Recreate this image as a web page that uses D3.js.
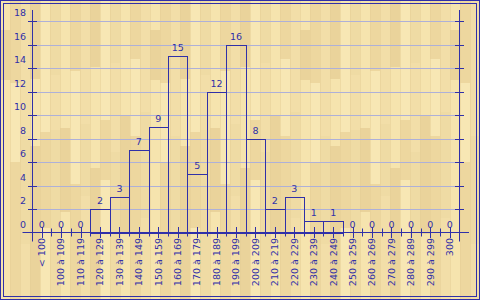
<!DOCTYPE html>
<html>
<head>
<meta charset="utf-8">
<script src="https://cdn.jsdelivr.net/npm/d3@7"></script>
<style>
  body { margin: 0; background: #fff; }
  svg text { font-family: "DejaVu Sans", Verdana, sans-serif; font-size: 9.5px; fill: #3030a8; }
</style>
</head>
<body>
<svg id="chart" width="480" height="300"></svg>
<script>
// Histogram categories and counts
const categories = ["< 100", "100 à 109", "110 à 119", "120 à 129", "130 à 139", "140 à 149",
  "150 à 159", "160 à 169", "170 à 179", "180 à 189", "190 à 199", "200 à 209",
  "210 à 219", "220 à 229", "230 à 239", "240 à 249", "250 à 259", "260 à 269",
  "270 à 279", "280 à 289", "290 à 299", "300"];
const counts = [0, 0, 0, 2, 3, 7, 9, 15, 5, 12, 16, 8, 2, 3, 1, 1, 0, 0, 0, 0, 0, 0];
const yTicks = [0, 2, 4, 6, 8, 10, 12, 14, 16, 18];

const W = 480, H = 300;
const BLUE = "#3030a8";
const GRID = "#aeb0d8";

const svg = d3.select("#chart");

// Wood-plank background (decorative texture)
const defs = svg.append("defs");
const pat = defs.append("pattern")
  .attr("id", "wood")
  .attr("patternUnits", "userSpaceOnUse")
  .attr("width", 150)
  .attr("height", 300);
pat.append("rect").attr("width", 150).attr("height", 300).attr("fill", "#efdaa3");
const shades = ["#f6e4ae", "#edd79f", "#f2dea8", "#ead39b", "#f7e7b4", "#efdba4"];
for (let i = 0; i < 15; i++) {
  const px = i * 10;
  const off = (i * 53) % 110;
  pat.append("rect")
    .attr("x", px).attr("y", 0).attr("width", 10).attr("height", 300)
    .attr("fill", shades[(i * 7) % shades.length]);
  pat.append("rect")
    .attr("x", px).attr("y", off + 30).attr("width", 10).attr("height", 50 + (i * 29) % 70)
    .attr("fill", shades[(i * 7 + 3) % shades.length]);
  pat.append("line")
    .attr("x1", px + 0.5).attr("x2", px + 0.5).attr("y1", 0).attr("y2", 300)
    .attr("stroke", "#e4cd95").attr("stroke-width", 0.5);
}
svg.append("rect").attr("width", W).attr("height", H).attr("fill", "url(#wood)");

// Double frame
svg.append("rect").attr("x", 0.5).attr("y", 0.5).attr("width", W - 1).attr("height", H - 1)
  .attr("fill", "none").attr("stroke", BLUE);
svg.append("rect").attr("x", 3.5).attr("y", 3.5).attr("width", W - 7).attr("height", H - 7)
  .attr("fill", "none").attr("stroke", BLUE);

// Scales
const x = d3.scaleBand().domain(categories).range([32, 459.5]).padding(0);
const y = d3.scaleLinear().domain([0, 18]).range([232.5, 21]);
const x0 = 32.5, x1 = 459.5, yTop = 10, yBot = 241.5;
const px = (v) => Math.round(v) + 0.5;

// Grid
svg.append("g").selectAll("line")
  .data(yTicks.filter((d) => d > 0))
  .join("line")
  .attr("x1", x0).attr("x2", x1)
  .attr("y1", (d) => px(y(d))).attr("y2", (d) => px(y(d)))
  .attr("stroke", GRID);

// Bars as outlined rectangles
const bars = categories.map((c, i) => ({ c, v: counts[i] }));
svg.append("g").selectAll("rect")
  .data(bars.filter((d) => d.v > 0))
  .join("rect")
  .attr("x", (d) => px(x(d.c)))
  .attr("y", (d) => px(y(d.v)))
  .attr("width", (d) => Math.round(x(d.c) + x.bandwidth()) - Math.round(x(d.c)))
  .attr("height", (d) => Math.round(y(0)) - Math.round(y(d.v)))
  .attr("fill", "none")
  .attr("stroke", BLUE);

// Value labels
svg.append("g").selectAll("text")
  .data(bars)
  .join("text")
  .attr("x", (d) => x(d.c) + x.bandwidth() / 2)
  .attr("y", (d) => y(d.v) - 5)
  .attr("text-anchor", "middle")
  .text((d) => d.v);

// Axes lines
const axes = svg.append("g").attr("stroke", BLUE).attr("fill", "none");
axes.append("line").attr("x1", x0).attr("x2", x0).attr("y1", yTop).attr("y2", yBot);
axes.append("line").attr("x1", x1).attr("x2", x1).attr("y1", yTop).attr("y2", yBot);
axes.append("line").attr("x1", 22.5).attr("x2", 469).attr("y1", 232.5).attr("y2", 232.5);

// Y ticks on both sides
const yt = yTicks.filter((d) => d > 0);
axes.selectAll(".lt").data(yt).join("line")
  .attr("x1", x0 - 4.5).attr("x2", x0 + 4.5)
  .attr("y1", (d) => px(y(d))).attr("y2", (d) => px(y(d)));
axes.selectAll(".rt").data(yt).join("line")
  .attr("x1", x1 - 4.5).attr("x2", x1 + 4.5)
  .attr("y1", (d) => px(y(d))).attr("y2", (d) => px(y(d)));

// X ticks: centres and band boundaries
axes.selectAll(".ct").data(categories).join("line")
  .attr("x1", (d) => px(x(d) + x.bandwidth() / 2))
  .attr("x2", (d) => px(x(d) + x.bandwidth() / 2))
  .attr("y1", 227).attr("y2", 238);
axes.selectAll(".bt").data(categories.slice(1)).join("line")
  .attr("x1", (d) => px(x(d)))
  .attr("x2", (d) => px(x(d)))
  .attr("y1", 228.5).attr("y2", 236.5);

// Y labels
svg.append("g").selectAll("text")
  .data(yTicks)
  .join("text")
  .attr("x", 26)
  .attr("y", (d) => y(d) - 5)
  .attr("text-anchor", "end")
  .text((d) => d);

// X labels (rotated)
svg.append("g").selectAll("text")
  .data(categories)
  .join("text")
  .attr("transform", (d) => `translate(${x(d) + x.bandwidth() / 2},238) rotate(-90)`)
  .attr("text-anchor", "end")
  .attr("dy", "0.35em")
  .text((d) => d);
</script>
</body>
</html>
